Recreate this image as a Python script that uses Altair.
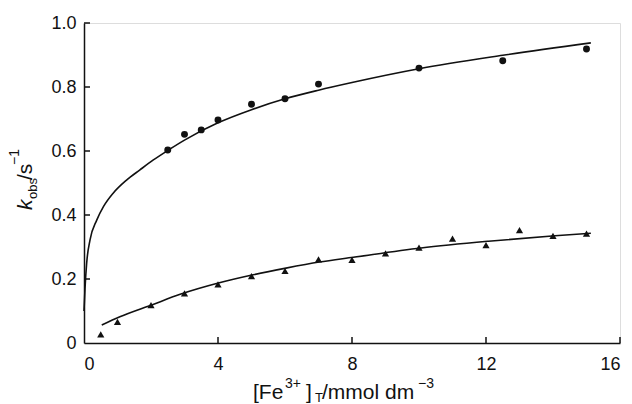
import altair as alt
import pandas as pd

# ---- data ----
circ_x = [2.5, 3.0, 3.5, 4.0, 5.0, 6.0, 7.0, 10.0, 12.5, 15.0]
circ_y = [0.603, 0.652, 0.666, 0.697, 0.746, 0.763, 0.809, 0.859, 0.882, 0.919]

tri_x = [0.5, 1, 2, 3, 4, 5, 6, 7, 8, 9, 10, 11, 12, 13, 14, 15]
tri_y = [0.027, 0.066, 0.118, 0.155, 0.183, 0.209, 0.225, 0.261, 0.260,
         0.280, 0.298, 0.326, 0.306, 0.353, 0.335, 0.342]

fit1_x = [0.0, 0.03, 0.08, 0.18, 0.38, 0.58, 0.87, 1.27, 1.67, 2.07, 2.52,
          3.0, 4.0, 5.0, 6.0, 7.0, 8.0, 10.0, 12.5, 15.13]
fit1_y = [0.10, 0.17, 0.25, 0.322, 0.384, 0.426, 0.468, 0.509, 0.541, 0.572, 0.603,
          0.634, 0.688, 0.729, 0.763, 0.790, 0.814, 0.857, 0.899, 0.938]

fit2_x = [0.53, 1.07, 2.02, 2.87, 4.04, 5.05, 6.03, 7.02, 8.04, 10.06, 12.07, 14.06, 15.13]
fit2_y = [0.056, 0.082, 0.119, 0.152, 0.188, 0.213, 0.234, 0.253, 0.268, 0.297, 0.318, 0.335, 0.343]

x_ticks = [0, 4, 8, 12, 16]
y_ticks = [0, 0.2, 0.4, 0.6, 0.8, 1.0]
x_inner_ticks = [4, 8, 12, 16]
y_inner_ticks = [0.2, 0.4, 0.6, 0.8, 1.0]

W, H = 536, 320
INK = "#111111"
FONT = "Liberation Sans"

xs = alt.Scale(domain=[0, 16], nice=False, zero=False)
ys = alt.Scale(domain=[0, 1], nice=False, zero=False)

xaxis = alt.Axis(values=x_ticks, title=None, grid=False, ticks=False,
                 domainColor=INK, domainWidth=1.5, labelColor=INK,
                 labelFont=FONT, labelFontSize=18, labelPadding=12)
yaxis = alt.Axis(values=y_ticks, title=None, grid=False, ticks=False,
                 domainColor=INK, domainWidth=1.5, labelColor=INK,
                 labelFont=FONT, labelFontSize=18, labelPadding=8,
                 labelExpr="datum.value == 0 ? '0' : format(datum.value, '.1f')")

df_c = pd.DataFrame({"x": circ_x, "y": circ_y})
df_t = pd.DataFrame({"x": tri_x, "y": tri_y})
df_f1 = pd.DataFrame({"x": fit1_x, "y": fit1_y})
df_f2 = pd.DataFrame({"x": fit2_x, "y": fit2_y})

base_axes = alt.Chart(df_f1).mark_line(color=INK, strokeWidth=1.6, interpolate="monotone").encode(
    x=alt.X("x:Q", scale=xs, axis=xaxis),
    y=alt.Y("y:Q", scale=ys, axis=yaxis),
)
line2 = alt.Chart(df_f2).mark_line(color=INK, strokeWidth=1.6, interpolate="monotone").encode(
    x=alt.X("x:Q", scale=xs), y=alt.Y("y:Q", scale=ys))

circles = alt.Chart(df_c).mark_point(shape="circle", filled=True, color=INK, size=48, opacity=1).encode(
    x=alt.X("x:Q", scale=xs), y=alt.Y("y:Q", scale=ys))
tris = alt.Chart(df_t).mark_point(shape="triangle-up", filled=True, color=INK, size=52, opacity=1).encode(
    x=alt.X("x:Q", scale=xs), y=alt.Y("y:Q", scale=ys))

ytk = alt.Chart(pd.DataFrame({"v": y_inner_ticks})).mark_rule(color=INK, strokeWidth=1.5).encode(
    y=alt.Y("v:Q", scale=ys), x=alt.value(0), x2=alt.value(6))
xtk = alt.Chart(pd.DataFrame({"v": x_inner_ticks})).mark_rule(color=INK, strokeWidth=1.5).encode(
    x=alt.X("v:Q", scale=xs), y=alt.value(H), y2=alt.value(H - 6))


def txt(s, x, y, size, angle=0, style="normal"):
    kw = dict(text=s, font=FONT, fontSize=size, color=INK, align="left",
              baseline="alphabetic", fontStyle=style)
    if angle:
        kw["angle"] = angle
    return alt.Chart(alt.Data(values=[{}])).mark_text(**kw).encode(
        x=alt.value(x), y=alt.value(y))

# x-axis title: [Fe3+ ]T/mmol dm-3
xt = [
    txt("[Fe", 169, 376, 21),
    txt("3+", 201, 365, 14),
    txt("]", 222, 376, 21),
    txt("T", 231, 379, 13),
    txt("/mmol dm", 238, 376, 21),
    txt("\u22123", 334, 365, 14),
]
# y-axis title: k_obs/s^-1 (rotated)
yt = [
    txt("k", -52, 187, 21, angle=270, style="italic"),
    txt("obs", -47, 176, 13, angle=270),
    txt("/s", -52, 157, 21, angle=270),
    txt("\u22121", -65, 142, 14, angle=270),
]

chart = alt.layer(base_axes, line2, circles, tris, ytk, xtk, *xt, *yt).properties(
    width=W, height=H,
    autosize=alt.AutoSizeParams(type="none"),
    padding={"left": 76, "top": 15, "right": 4, "bottom": 63},
).configure_view(stroke=None).configure(background="white")

chart.save("out.html", embed_options={"renderer": "svg", "actions": False})
